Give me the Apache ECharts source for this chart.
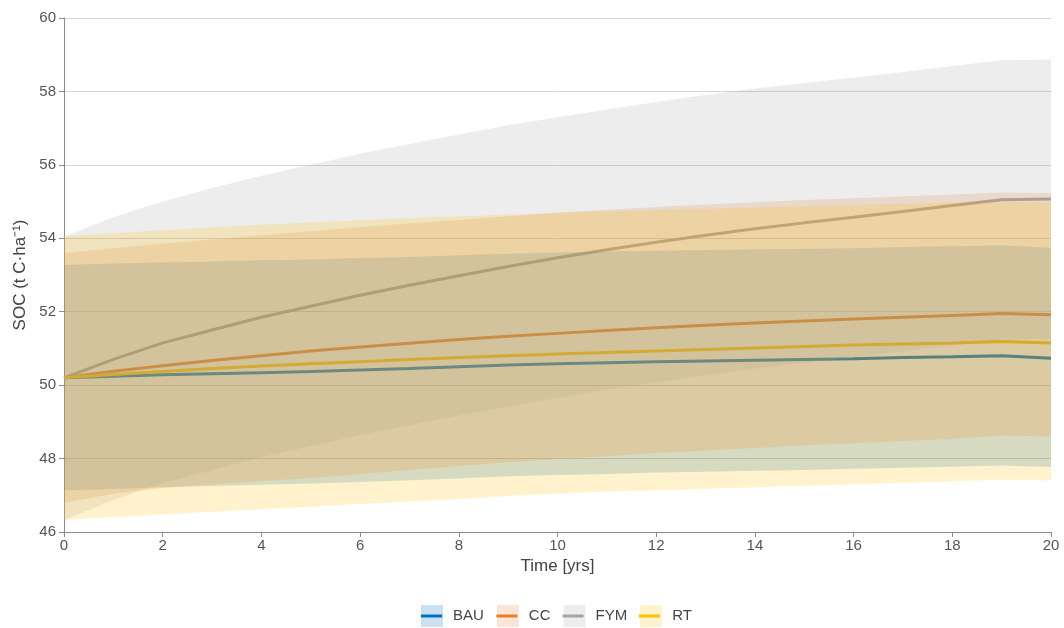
<!DOCTYPE html>
<html><head><meta charset="utf-8">
<script src="https://cdn.jsdelivr.net/npm/echarts@6/dist/echarts.min.js"></script>
<style>html,body{margin:0;padding:0;background:#fff}#c{width:1064px;height:628px}</style>
</head><body><div id="c"></div>
<script>
// ---- data ----
const years = [0,1,2,3,4,5,6,7,8,9,10,11,12,13,14,15,16,17,18,19,20];
const yTicks = [46,48,50,52,54,56,58,60];

const bauMean  = [50.2,50.24,50.28,50.31,50.34,50.37,50.41,50.45,50.5,50.55,50.58,50.61,50.64,50.66,50.68,50.7,50.72,50.75,50.77,50.8,50.73];
const bauLower = [47.13,47.17,47.22,47.25,47.29,47.32,47.36,47.41,47.46,47.52,47.55,47.58,47.62,47.64,47.67,47.69,47.72,47.75,47.78,47.81,47.77];
const bauUpper = [53.27,53.31,53.34,53.37,53.4,53.42,53.46,53.49,53.54,53.58,53.61,53.64,53.66,53.68,53.7,53.71,53.73,53.76,53.78,53.81,53.74];

const ccMean  = [50.2,50.38,50.53,50.67,50.8,50.93,51.04,51.14,51.24,51.33,51.41,51.49,51.56,51.63,51.69,51.75,51.8,51.85,51.9,51.95,51.92];
const ccLower = [46.8,47.04,47.2,47.3,47.39,47.47,47.58,47.69,47.8,47.9,47.99,48.07,48.15,48.22,48.29,48.36,48.42,48.48,48.54,48.63,48.6];
const ccUpper = [53.6,53.73,53.85,53.97,54.08,54.19,54.3,54.4,54.5,54.6,54.7,54.78,54.85,54.92,54.98,55.04,55.09,55.14,55.19,55.25,55.23];

const fymMean  = [50.2,50.7,51.15,51.5,51.85,52.15,52.45,52.72,52.98,53.23,53.47,53.69,53.89,54.08,54.26,54.42,54.57,54.73,54.89,55.05,55.07];
const fymLower = [46.33,46.87,47.33,47.69,48.04,48.34,48.64,48.91,49.17,49.42,49.66,49.88,50.08,50.27,50.45,50.61,50.76,50.92,51.08,51.24,51.27];
const fymUpper = [54.05,54.57,55.0,55.37,55.7,56.0,56.3,56.57,56.83,57.08,57.3,57.51,57.71,57.9,58.08,58.23,58.38,58.53,58.69,58.85,58.87];

const rtMean  = [50.2,50.29,50.37,50.45,50.52,50.58,50.64,50.7,50.75,50.8,50.85,50.89,50.93,50.97,51.01,51.05,51.09,51.12,51.15,51.19,51.15];
const rtLower = [46.33,46.41,46.48,46.55,46.62,46.69,46.76,46.83,46.9,46.98,47.05,47.1,47.14,47.18,47.22,47.26,47.3,47.34,47.38,47.42,47.4];
const rtUpper = [54.05,54.14,54.22,54.3,54.37,54.43,54.49,54.55,54.6,54.64,54.69,54.73,54.77,54.8,54.84,54.88,54.91,54.94,54.97,55.0,54.96];

const seriesNames = ['BAU','CC','FYM','RT'];
const lineColors  = ['#0070C0','#ED7D31','#A5A5A5','#FFC000'];
const bandColors  = ['rgba(0,112,192,0.2)','rgba(237,125,49,0.2)','rgba(165,165,165,0.2)','rgba(255,192,0,0.2)'];
const boxColors   = ['#cce2f2','#fbe5d6','#ededed','#fff2cc'];
const means  = [bauMean, ccMean, fymMean, rtMean];
const lowers = [bauLower, ccLower, fymLower, rtLower];
const uppers = [bauUpper, ccUpper, fymUpper, rtUpper];

// ---- build series ----
const series = [];
seriesNames.forEach((n, k) => {
  series.push({
    name: n, type: 'line', z: 1, silent: true,
    symbol: 'none', showSymbol: false,
    data: years.map((x, i) => [x, means[k][i]]),
    lineStyle: { width: 3, color: lineColors[k] },
    itemStyle: { color: lineColors[k] }
  });
});
seriesNames.forEach((n, k) => {
  series.push({
    name: n + '_band', type: 'custom', z: 2, silent: true, clip: true,
    data: years.map((x, i) => [x, lowers[k][i], uppers[k][i]]),
    encode: { x: 0, y: [1, 2] },
    renderItem: function (params, api) {
      if (params.dataIndex !== 0) return null;
      const pts = [];
      for (let i = 0; i < years.length; i++) pts.push(api.coord([years[i], uppers[k][i]]));
      for (let i = years.length - 1; i >= 0; i--) pts.push(api.coord([years[i], lowers[k][i]]));
      return {
        type: 'polygon',
        shape: { points: pts },
        style: { fill: bandColors[k], stroke: null }
      };
    }
  });
});

const FONT = '"Liberation Sans", Arial, sans-serif';
const legendCommon = {
  left: 421, bottom: 1, orient: 'horizontal', padding: 0,
  itemWidth: 22, itemHeight: 22, itemGap: 13,
  selectedMode: false,
  textStyle: { fontFamily: FONT, fontSize: 15, color: '#444', padding: [0, 0, 0, 5] }
};
const barPath = 'path://M0,0L0,0ZM0,10H22V13H0ZM22,23L22,23Z';

const option = {
  animation: false,
  backgroundColor: '#fff',
  grid: { left: 64, right: 13, top: 18, bottom: 96 },
  legend: [
    Object.assign({}, legendCommon, {
      data: seriesNames.map((n, k) => ({ name: n, icon: 'rect', itemStyle: { color: boxColors[k], borderWidth: 0 } }))
    }),
    Object.assign({}, legendCommon, {
      textStyle: Object.assign({}, legendCommon.textStyle, { color: 'rgba(0,0,0,0)' }),
      data: seriesNames.map((n, k) => ({ name: n, icon: barPath, itemStyle: { color: lineColors[k], borderWidth: 0 } }))
    })
  ],
  xAxis: {
    type: 'value', min: 0, max: 20, interval: 2,
    name: 'Time [yrs]', nameLocation: 'middle', nameGap: 26,
    nameTextStyle: { fontFamily: FONT, fontSize: 17, color: '#444' },
    axisLine: { show: true, lineStyle: { color: '#8c8c8c', width: 1 } },
    axisTick: { show: true, length: 5, lineStyle: { color: '#8c8c8c' } },
    axisLabel: { fontFamily: FONT, fontSize: 15, color: '#555', margin: 6 },
    splitLine: { show: false }
  },
  yAxis: {
    type: 'value', min: yTicks[0], max: yTicks[yTicks.length - 1], interval: 2,
    name: 'SOC (t C·ha⁻¹)', nameLocation: 'middle', nameGap: 30,
    nameTextStyle: { fontFamily: FONT, fontSize: 17, color: '#444' },
    axisLine: { show: true, lineStyle: { color: '#8c8c8c', width: 1 } },
    axisTick: { show: true, length: 5, lineStyle: { color: '#8c8c8c' } },
    axisLabel: { fontFamily: FONT, fontSize: 15, color: '#555', margin: 8 },
    splitLine: { show: true, lineStyle: { color: '#d4d4d4', width: 1 } }
  },
  series: series
};

const chart = echarts.init(document.getElementById('c'), null, { renderer: 'canvas' });
chart.setOption(option);
</script>
</body></html>
